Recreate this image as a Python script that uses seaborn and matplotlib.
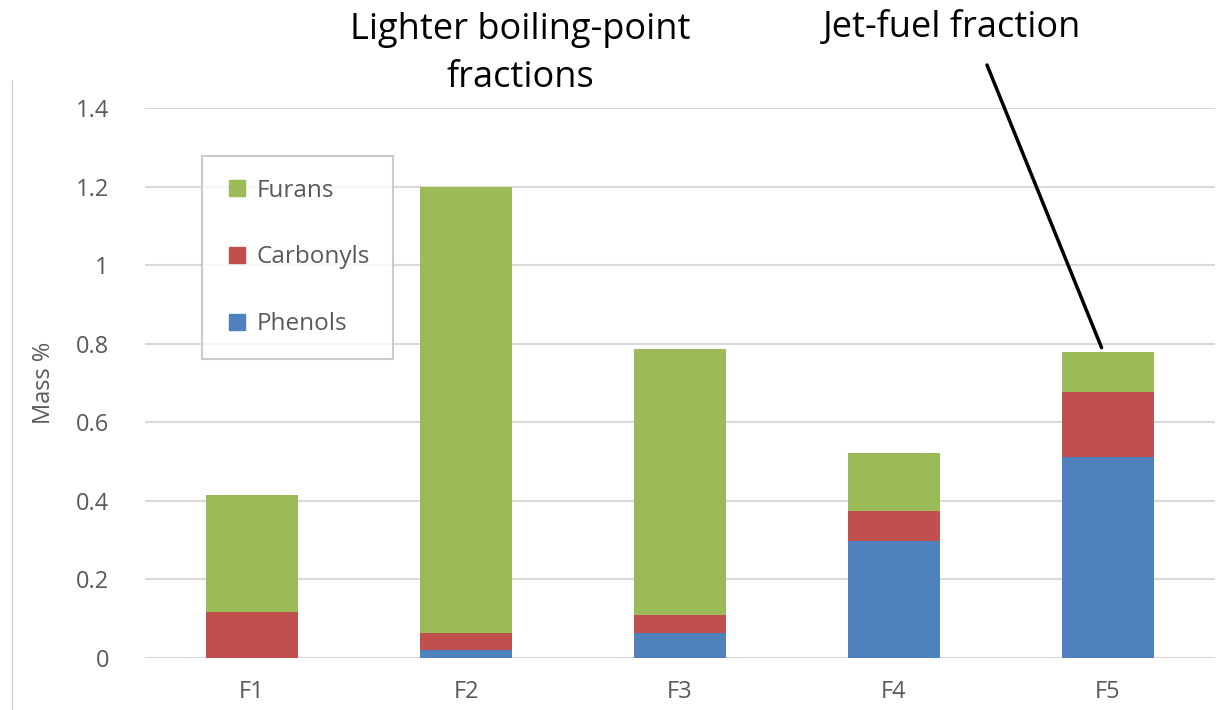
import matplotlib
import matplotlib.pyplot as plt
import pandas as pd
import seaborn as sns
from matplotlib.lines import Line2D

matplotlib.use("Agg")

fractions = ["F1", "F2", "F3", "F4", "F5"]
phenols   = [0.0, 0.020, 0.064, 0.298, 0.512]
carbonyls = [0.117, 0.044, 0.045, 0.076, 0.166]
furans    = [0.298, 1.135, 0.678, 0.148, 0.101]

COLORS = {"Phenols": "#4F81BD", "Carbonyls": "#C0504D", "Furans": "#9BBB59"}

df = pd.DataFrame({"fraction": fractions, "Phenols": phenols,
                   "Carbonyls": carbonyls, "Furans": furans})
# cumulative heights, drawn from the tallest layer down
df["Carbonyls_top"] = df["Phenols"] + df["Carbonyls"]
df["Furans_top"]    = df["Carbonyls_top"] + df["Furans"]

sns.set_theme(style="white")
plt.rcParams["font.family"] = ["Open Sans", "DejaVu Sans"]

fig = plt.figure(figsize=(12.22, 7.10), dpi=100)
ax = fig.add_axes([145 / 1222, 52 / 710, 1070 / 1222, 550 / 710])

for col, name in [("Furans_top", "Furans"), ("Carbonyls_top", "Carbonyls"), ("Phenols", "Phenols")]:
    sns.barplot(data=df, x="fraction", y=col, color=COLORS[name], saturation=1,
                width=0.43, linewidth=0, ax=ax, zorder=2)

ax.set_ylim(0, 1.4)
ax.set_xlim(-0.5, 4.5)
ax.set_yticks([0, 0.2, 0.4, 0.6, 0.8, 1.0, 1.2, 1.4])
ax.set_yticklabels(["0", "0.2", "0.4", "0.6", "0.8", "1", "1.2", "1.4"])
ax.yaxis.grid(True, color="#D9D9D9", linewidth=1.5, zorder=0)
ax.set_axisbelow(True)
for s in ax.spines.values():
    s.set_visible(False)
ax.tick_params(axis="both", length=0, labelsize=17, labelcolor="#595959")
ax.tick_params(axis="y", pad=26)
ax.tick_params(axis="x", pad=16)
ax.set_xlabel("")
ax.set_ylabel("Mass %", fontsize=17, color="#595959", labelpad=14)

handles = [Line2D([], [], marker="s", linestyle="", markersize=12,
                  markerfacecolor=COLORS[n], markeredgecolor=COLORS[n], label=n)
           for n in ["Furans", "Carbonyls", "Phenols"]]
leg = ax.legend(handles=handles, loc="upper left", bbox_to_anchor=(0.053, 0.913),
                fontsize=17.5, frameon=True, fancybox=False, borderpad=0.95,
                labelspacing=1.75, handletextpad=0.3, handlelength=1.0,
                borderaxespad=0, labelcolor="#595959")
leg.get_frame().set_edgecolor("#BFBFBF")
leg.get_frame().set_linewidth(1.5)

# thin border line on the left of the figure
fig.add_artist(Line2D([12 / 1222, 12 / 1222], [0, 630 / 710],
                      transform=fig.transFigure, color="#D0D0D0", linewidth=1))

fig.text(520 / 1222, 1 - 54 / 710, "Lighter boiling-point\nfractions",
         ha="center", va="center", fontsize=26, color="black", linespacing=1.45)
fig.text(952 / 1222, 1 - 28 / 710, "Jet-fuel fraction",
         ha="center", va="center", fontsize=26, color="black")

ax.annotate("", xy=(4 - 0.03, 0.79), xycoords="data",
            xytext=(987, 710 - 65), textcoords="figure pixels",
            arrowprops=dict(arrowstyle="-", color="black", linewidth=2.5,
                            shrinkA=0, shrinkB=0))

fig.savefig("out.png", dpi=100)
